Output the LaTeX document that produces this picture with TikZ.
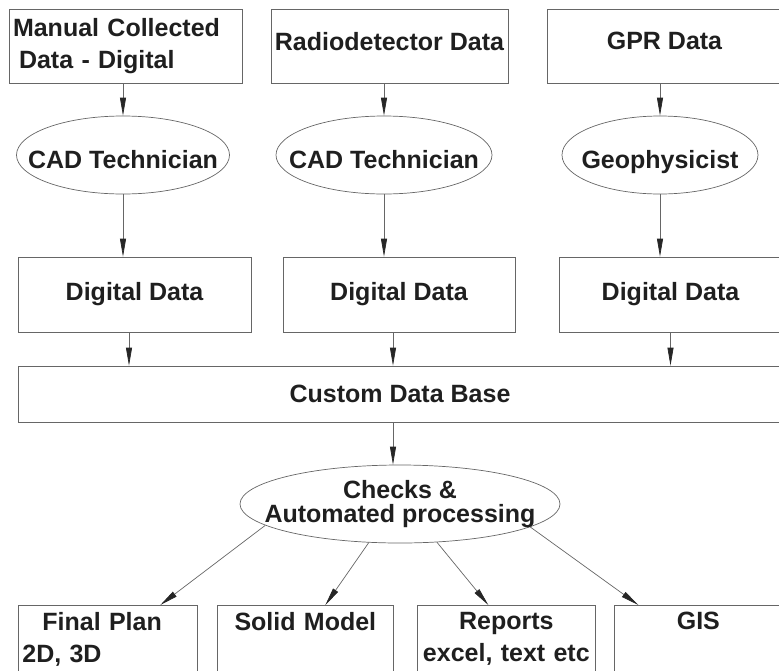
\documentclass[tikz,border=0pt]{standalone}
\usepackage{fontspec}
\setmainfont{Liberation Sans}
\usetikzlibrary{shapes.geometric,arrows.meta}

\begin{document}
\begin{tikzpicture}[x=1pt,y=-1pt,
	every node/.style={font=\bfseries\fontsize{25}{32}\selectfont, text=black!88},
	databox/.style={draw=black!60, line width=0.7pt, rectangle, inner sep=4pt},
	person/.style={draw=black!60, line width=0.7pt, ellipse, inner sep=0pt, minimum height=78pt},
	flow/.style={draw=black!60, line width=0.7pt, -{Triangle[length=18pt,width=6pt,color=black!85]}}]
    \useasboundingbox (0,0) rectangle (779,670);

    \node[databox, text width=225pt, align=left, minimum height=74pt] (man) at (125.5,46) {Manual Collected\\\hspace*{6pt}Data - Digital};
    \node[databox, minimum width=233pt, minimum height=74pt, text depth=10pt] (radio) at (389.5,46) {Radiodetector Data};
    \node[databox, minimum width=235pt, minimum height=74pt, text depth=10pt] (gpr) at (664.5,46) {GPR Data};

    \node[person, minimum width=213pt, text height=26pt, text depth=0pt] (cad1) at (123,155) {\makebox[0pt]{CAD Technician}};
    \node[person, minimum width=216pt, text height=26pt, text depth=0pt] (cad2) at (384,155) {\makebox[0pt]{CAD Technician}};
    \node[person, minimum width=196pt, text height=26pt, text depth=0pt] (geo) at (660,155) {\makebox[0pt]{Geophysicist}};

    \node[databox, minimum width=233pt, minimum height=75pt] (dig1) at (134.5,294.5) {Digital Data};
    \node[databox, minimum width=232pt, minimum height=75pt] (dig2) at (399,294.5) {Digital Data};
    \node[databox, minimum width=223pt, minimum height=75pt] (dig3) at (670.5,294.5) {Digital Data};

    \node[databox, minimum width=764pt, minimum height=56pt] (db) at (400,394) {Custom Data Base};

    \node[person, minimum width=320pt, align=center, font=\bfseries\fontsize{25}{24}\selectfont] (checks) at (400,504) {\makebox[0pt]{Checks \&}\\\makebox[0pt]{Automated processing}};

    % outputs, cut off at the bottom
    \node[databox, anchor=north west, text width=171pt, inner ysep=7pt, align=left] (plan) at (18,605) {\hspace*{20pt}Final Plan\\2D, 3D\strut};
    \node[databox, anchor=north west, text width=168pt, inner ysep=7pt, align=center] (solid) at (217,605) {Solid Model\\\strut};
    \node[databox, anchor=north west, text width=170pt, inner ysep=7pt, align=center] (reports) at (417,605) {Reports\\excel, text etc\strut};
    \node[databox, anchor=north west, text width=160pt, inner ysep=7pt, align=center] (gis) at (614,605) {GIS\\\strut};

    \draw[flow] (cad1.north |- man.south) -- (cad1.north);
    \draw[flow] (cad2.north |- radio.south) -- (cad2.north);
    \draw[flow] (geo.north |- gpr.south) -- (geo.north);

    \draw[flow] (cad1.south) -- (cad1.south |- dig1.north);
    \draw[flow] (cad2.south) -- (cad2.south |- dig2.north);
    \draw[flow] (geo.south) -- (geo.south |- dig3.north);

    \draw[flow] ([xshift=-5.5pt]dig1.south) -- ([xshift=-5.5pt]dig1.south |- db.north);
    \draw[flow] ([xshift=-6pt]dig2.south) -- ([xshift=-6pt]dig2.south |- db.north);
    \draw[flow] (dig3.south) -- (dig3.south |- db.north);

    \draw[flow] ([xshift=-7pt]db.south) -- ([xshift=-7pt]checks.north);

    \draw[flow] (checks.189) -- ([xshift=52.5pt]plan.north);
    \draw[flow] (checks.231) -- ([xshift=20pt]solid.north);
    \draw[flow] (checks.314) -- ([xshift=-18pt]reports.north);
    \draw[flow] (checks.350) -- ([xshift=-60pt]gis.north);

\end{tikzpicture}
\end{document}
